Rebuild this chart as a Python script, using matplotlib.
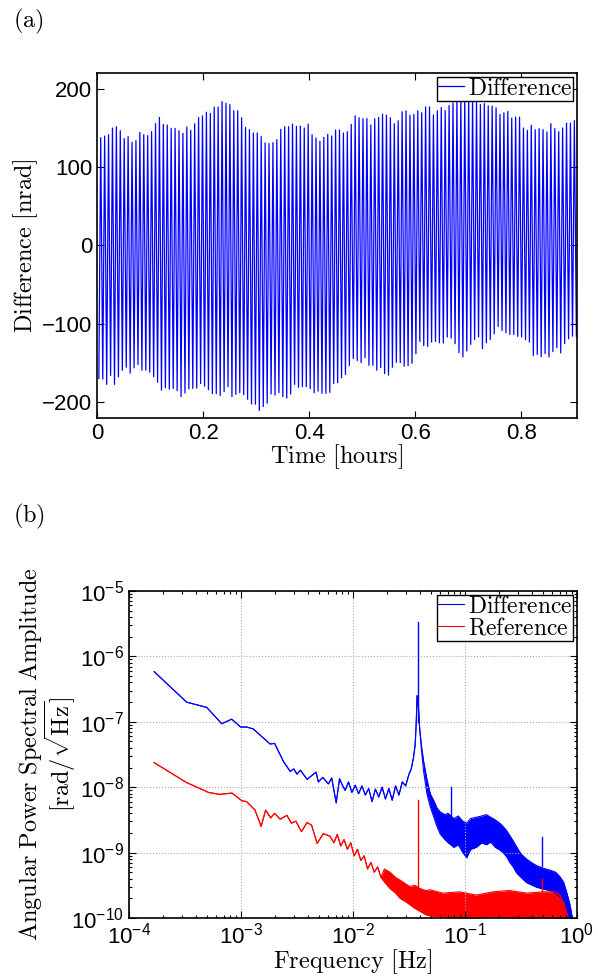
import numpy as np
import matplotlib
matplotlib.use("Agg")
import matplotlib.pyplot as plt
from matplotlib.ticker import FuncFormatter, LogLocator, NullFormatter

plt.rcParams['font.family'] = ['Liberation Sans', 'DejaVu Sans']
plt.rcParams['axes.unicode_minus'] = True

# (a) time series: peak and trough value of each cycle [nrad]
peaks = [137.6, 139.6, 141.3, 149.8, 151.5, 146.4, 136.3, 138.9, 131.6, 133.8,
         144.3, 141.3, 140.1, 145.2, 155.3, 163.3, 154.4, 153.6, 149.4, 149.4,
         146.4, 143.0, 151.1, 146.8, 155.3, 163.3, 165.4, 170.0, 168.4, 176.4,
         176.4, 183.5, 181.4, 179.7, 171.8, 171.8, 162.9, 150.6, 147.7, 143.5,
         143.5, 138.9, 130.8, 130.0, 131.2, 135.0, 148.1, 151.5, 151.5, 154.8,
         151.9, 152.3, 149.8, 154.8, 141.3, 137.1, 132.9, 138.0, 141.8, 139.6,
         147.2, 147.2,
         143.5, 145.2, 154.4, 165.4, 162.9, 161.6, 162.0, 153.6, 161.6, 163.3,
         167.5, 166.2, 162.9, 155.3, 159.1, 170.5, 171.8, 166.2, 167.1, 171.8,
         169.2, 176.8, 176.8, 166.2, 171.8, 175.9, 172.2, 178.5, 181.9, 186.1,
         189.0, 189.0, 187.7, 187.0, 183.2, 179.7, 181.0, 178.1, 177.6, 175.6,
         167.1, 169.2, 170.9, 162.4, 163.7, 163.7, 149.8, 146.8, 153.2, 147.7,
         149.0, 147.7, 144.7, 155.3, 149.0, 145.2, 149.8, 156.1, 156.1, 159.1]
troughs = [-169.6, -170.5, -177.2, -165.8, -177.2, -167.5, -159.1, -155.3, -162.9, -156.1,
           -151.9, -159.1, -159.1, -161.6, -167.5, -174.3, -184.4, -181.4, -183.2, -182.3,
           -185.2, -192.8, -188.2, -182.7, -182.3, -181.9, -176.0, -179.4, -184.0, -189.0,
           -189.0, -191.5, -186.5, -180.1, -192.8, -189.9, -187.7, -190.3, -196.2, -202.1,
           -202.5, -210.5, -205.4, -201.3, -189.5, -190.8, -187.7, -192.8, -194.6, -189.5,
           -177.2, -181.0, -180.1, -180.1, -182.7, -187.7, -185.7, -188.6, -188.6, -187.3,
           -176.0, -175.1,
           -168.7, -164.6, -153.2, -144.3, -146.8, -149.4, -143.0, -152.8, -152.8, -159.1,
           -155.7, -163.3, -165.4, -155.3, -149.0, -149.4, -154.0, -153.2, -150.3, -138.0,
           -122.4, -127.8, -128.7, -123.2, -122.4, -124.1, -124.4, -116.8, -118.1, -125.3,
           -136.7, -142.2, -134.6, -126.2, -119.9, -116.8, -131.6, -124.1, -119.9, -112.7,
           -103.4, -108.5, -111.4, -113.5, -113.5, -116.1, -116.8, -120.3, -123.2, -140.5,
           -138.9, -141.8, -138.0, -142.2, -135.4, -130.4, -137.1, -125.3, -119.0, -115.6,
           -116.1]
cycle_hours = 0.00738     # about 26.6 s per cycle
first_peak = 0.0070
first_trough = 0.0035

# (b) spectra: log10 frequency, lower and upper edge (log10 rad/sqrt(Hz))
# where lower == upper the trace is a single line
diff_lf = [-3.775, -3.485, -3.306, -3.172, -3.083, -3.003, -2.95, -2.89, -2.74, -2.70,
           -2.62, -2.56, -2.53, -2.50, -2.47, -2.41, -2.33, -2.31, -2.27, -2.22,
           -2.19, -2.15, -2.12, -2.10, -2.07, -2.04, -2.01, -1.98, -1.95, -1.92,
           -1.89, -1.86, -1.83, -1.80, -1.77, -1.74, -1.71, -1.68, -1.65, -1.62,
           -1.59, -1.56, -1.53, -1.50, -1.48, -1.46, -1.445, -1.435, -1.428,
           -1.415, -1.405, -1.39, -1.37, -1.34, -1.31, -1.28, -1.25, -1.22, -1.18,
           -1.15, -1.10, -1.06, -1.02, -0.985, -0.95, -0.90, -0.85, -0.81, -0.77,
           -0.73, -0.69, -0.66, -0.63, -0.60, -0.57, -0.54, -0.50, -0.45, -0.40,
           -0.36, -0.30, -0.24, -0.19, -0.152, -0.12, -0.09, -0.065, -0.048, -0.03]
diff_lo = [-6.234, -6.70, -6.78, -7.03, -6.96, -7.08, -7.08, -7.11, -7.34, -7.33,
           -7.61, -7.76, -7.72, -7.80, -7.74, -7.88, -7.77, -7.92, -7.85, -7.95,
           -7.86, -8.24, -7.87, -7.95, -8.05, -7.92, -8.08, -7.97, -8.10, -7.98,
           -8.12, -8.02, -8.22, -8.03, -8.15, -8.00, -8.18, -8.02, -8.20, -7.98,
           -8.12, -7.92, -7.98, -7.80, -7.72, -7.55, -7.35, -7.00, -6.60,
           -6.80, -7.10, -7.40, -7.75, -8.10, -8.30, -8.45, -8.60, -8.72, -8.80,
           -8.85, -8.92, -8.88, -9.00, -9.08, -8.95, -8.92, -8.85, -8.88, -8.84,
           -8.92, -8.96, -9.00, -9.06, -9.15, -9.22, -9.31, -9.38, -9.46, -9.50,
           -9.53, -9.56, -9.58, -9.62, -9.68, -9.75, -9.93, -10.05, -10.2, -10.5]
diff_hi = [-6.234, -6.70, -6.78, -7.03, -6.96, -7.08, -7.08, -7.11, -7.34, -7.33,
           -7.61, -7.76, -7.72, -7.80, -7.74, -7.88, -7.77, -7.92, -7.85, -7.95,
           -7.86, -8.24, -7.87, -7.95, -8.05, -7.92, -8.08, -7.97, -8.10, -7.98,
           -8.12, -8.02, -8.22, -8.03, -8.15, -8.00, -8.18, -8.02, -8.20, -7.98,
           -8.12, -7.92, -7.98, -7.80, -7.72, -7.55, -7.35, -7.00, -6.60,
           -6.80, -7.10, -7.35, -7.60, -7.88, -8.10, -8.20, -8.32, -8.38, -8.42,
           -8.40, -8.48, -8.44, -8.52, -8.55, -8.48, -8.46, -8.44, -8.42, -8.46,
           -8.50, -8.55, -8.60, -8.66, -8.74, -8.82, -8.91, -9.02, -9.10, -9.16,
           -9.20, -9.24, -9.27, -9.30, -9.37, -9.45, -9.62, -9.78, -9.93, -10.2]

ref_lf = [-3.775, -3.485, -3.29, -3.19, -3.08, -2.99, -2.95, -2.875, -2.82, -2.78,
          -2.735, -2.70, -2.65, -2.59, -2.55, -2.51, -2.46, -2.41, -2.37, -2.32,
          -2.265, -2.205, -2.17, -2.14, -2.11, -2.08, -2.05, -2.02, -1.99, -1.96,
          -1.93, -1.90, -1.87, -1.84, -1.81, -1.78, -1.75, -1.72, -1.67, -1.62,
          -1.58, -1.53, -1.49, -1.45, -1.40, -1.35, -1.31, -1.20, -1.05, -0.90,
          -0.75, -0.60, -0.45, -0.30, -0.20, -0.15, -0.10, -0.07]
ref_lo = [-7.625, -7.93, -8.08, -8.11, -8.09, -8.21, -8.22, -8.35, -8.60, -8.35,
          -8.47, -8.40, -8.49, -8.43, -8.55, -8.52, -8.68, -8.54, -8.58, -8.86,
          -8.71, -8.75, -8.85, -8.72, -8.90, -8.80, -8.95, -8.85, -9.05, -8.95,
          -9.12, -9.05, -9.25, -9.15, -9.30, -9.22, -9.38, -9.45, -9.55, -9.62,
          -9.70, -9.75, -9.80, -9.85, -9.90, -9.95, -9.97, -9.98, -10.0, -10.0,
          -9.98, -10.0, -10.0, -10.0, -10.0, -10.1, -10.3, -10.5]
ref_hi = [-7.625, -7.93, -8.08, -8.11, -8.09, -8.21, -8.22, -8.35, -8.60, -8.35,
          -8.47, -8.40, -8.49, -8.43, -8.55, -8.52, -8.68, -8.54, -8.58, -8.86,
          -8.71, -8.75, -8.85, -8.72, -8.90, -8.80, -8.95, -8.85, -9.05, -8.95,
          -9.12, -9.05, -9.25, -9.15, -9.30, -9.22, -9.38, -9.25, -9.30, -9.38,
          -9.42, -9.48, -9.52, -9.50, -9.55, -9.58, -9.57, -9.62, -9.60, -9.65,
          -9.60, -9.58, -9.62, -9.60, -9.60, -9.65, -9.85, -10.1]

# narrow lines sticking out of the bands: log10 f, base, top
diff_spikes = [(-1.422, -7.0, -5.48), (-1.125, -8.5, -8.0), (-0.31, -9.2, -8.76)]
ref_spikes = [(-1.422, -9.6, -8.2), (-0.31, -9.65, -9.4)]

blue = (0, 0, 1)
red = (1, 0, 0)

fig = plt.figure(figsize=(5.98, 9.77), dpi=100)
ax1 = fig.add_axes([0.1622, 0.5722, 0.8027, 0.3531])
ax2 = fig.add_axes([0.2157, 0.0604, 0.7492, 0.3347])

lab = dict(fontsize=17.5, math_fontfamily='cm')

# ---- (a)
tp = first_peak + cycle_hours * np.arange(len(peaks))
tt = first_trough + cycle_hours * np.arange(len(troughs))
t = np.concatenate([tp, tt])
v = np.concatenate([peaks, troughs])
order = np.argsort(t)
ax1.plot(t[order], v[order], color=blue, lw=0.9, label=r'$\mathrm{Difference}$')
ax1.set_xlim(0, 0.905)
ax1.set_ylim(-220, 220)
ax1.set_xticks([0, 0.2, 0.4, 0.6, 0.8])
ax1.set_yticks([-200, -100, 0, 100, 200])
fmt = FuncFormatter(lambda x, p: ('%g' % x).replace('-', '\u2212'))
ax1.xaxis.set_major_formatter(fmt)
ax1.yaxis.set_major_formatter(fmt)
ax1.set_xlabel(r'$\mathrm{Time\ [hours]}$', labelpad=-1, **lab)
ax1.set_ylabel(r'$\mathrm{Difference\ [nrad]}$', labelpad=1, **lab)

# ---- (b)
f_d = 10 ** np.array(diff_lf)
f_r = 10 ** np.array(ref_lf)
ax2.fill_between(f_d, 10 ** np.array(diff_lo), 10 ** np.array(diff_hi), color=blue, lw=0)
ax2.plot(f_d, 10 ** np.array(diff_hi), color=blue, lw=0.8, label=r'$\mathrm{Difference}$')
ax2.plot(f_d, 10 ** np.array(diff_lo), color=blue, lw=0.8)
for lf, b, tp_ in diff_spikes:
    ax2.plot([10 ** lf, 10 ** lf], [10 ** b, 10 ** tp_], color=blue, lw=1.0)
ax2.fill_between(f_r, 10 ** np.array(ref_lo), 10 ** np.array(ref_hi), color=red, lw=0)
ax2.plot(f_r, 10 ** np.array(ref_hi), color=red, lw=0.8, label=r'$\mathrm{Reference}$')
ax2.plot(f_r, 10 ** np.array(ref_lo), color=red, lw=0.8)
for lf, b, tp_ in ref_spikes:
    ax2.plot([10 ** lf, 10 ** lf], [10 ** b, 10 ** tp_], color=red, lw=1.0)
ax2.set_xscale('log')
ax2.set_yscale('log')
ax2.set_xlim(1e-4, 1)
ax2.set_ylim(1e-10, 1e-5)
ax2.xaxis.set_major_locator(LogLocator(base=10, numticks=10))
ax2.yaxis.set_major_locator(LogLocator(base=10, numticks=10))
ax2.xaxis.set_minor_locator(LogLocator(base=10, subs=np.arange(2, 10), numticks=20))
ax2.yaxis.set_minor_locator(LogLocator(base=10, subs=np.arange(2, 10), numticks=20))
ax2.xaxis.set_minor_formatter(NullFormatter())
ax2.yaxis.set_minor_formatter(NullFormatter())
ax2.grid(True, which='major', color='#aaaaaa', ls=':', lw=0.8)
ax2.set_xlabel(r'$\mathrm{Frequency\ [Hz]}$', labelpad=-1, **lab)
ax2.set_ylabel(r'$\mathrm{Angular\ Power\ Spectral\ Amplitude}$' + '\n'
               + r'$\mathrm{[rad/\sqrt{Hz}]}$', linespacing=0.95, **lab)
ax2.yaxis.set_label_coords(-0.113, 0.5)

for ax in (ax1, ax2):
    for s in ax.spines.values():
        s.set_linewidth(1.2)
    ax.tick_params(which='both', direction='in', top=True, right=True, labelsize=16,
                   width=0.8)
    ax.tick_params(which='major', length=5)
    ax.tick_params(which='minor', length=2.5)
    leg = ax.legend(loc='upper right', prop=dict(size=17, math_fontfamily='cm'),
                    handlelength=1.1, handletextpad=0.15, borderpad=0.05,
                    borderaxespad=0.15, labelspacing=0.0, fancybox=False,
                    framealpha=1, edgecolor='black')
    leg.get_frame().set_linewidth(1.0)

fig.text(0.022, 0.978, r'$\mathrm{(a)}$', va='center', **lab)
fig.text(0.022, 0.471, r'$\mathrm{(b)}$', va='center', **lab)

fig.savefig('out.png', dpi=100)
